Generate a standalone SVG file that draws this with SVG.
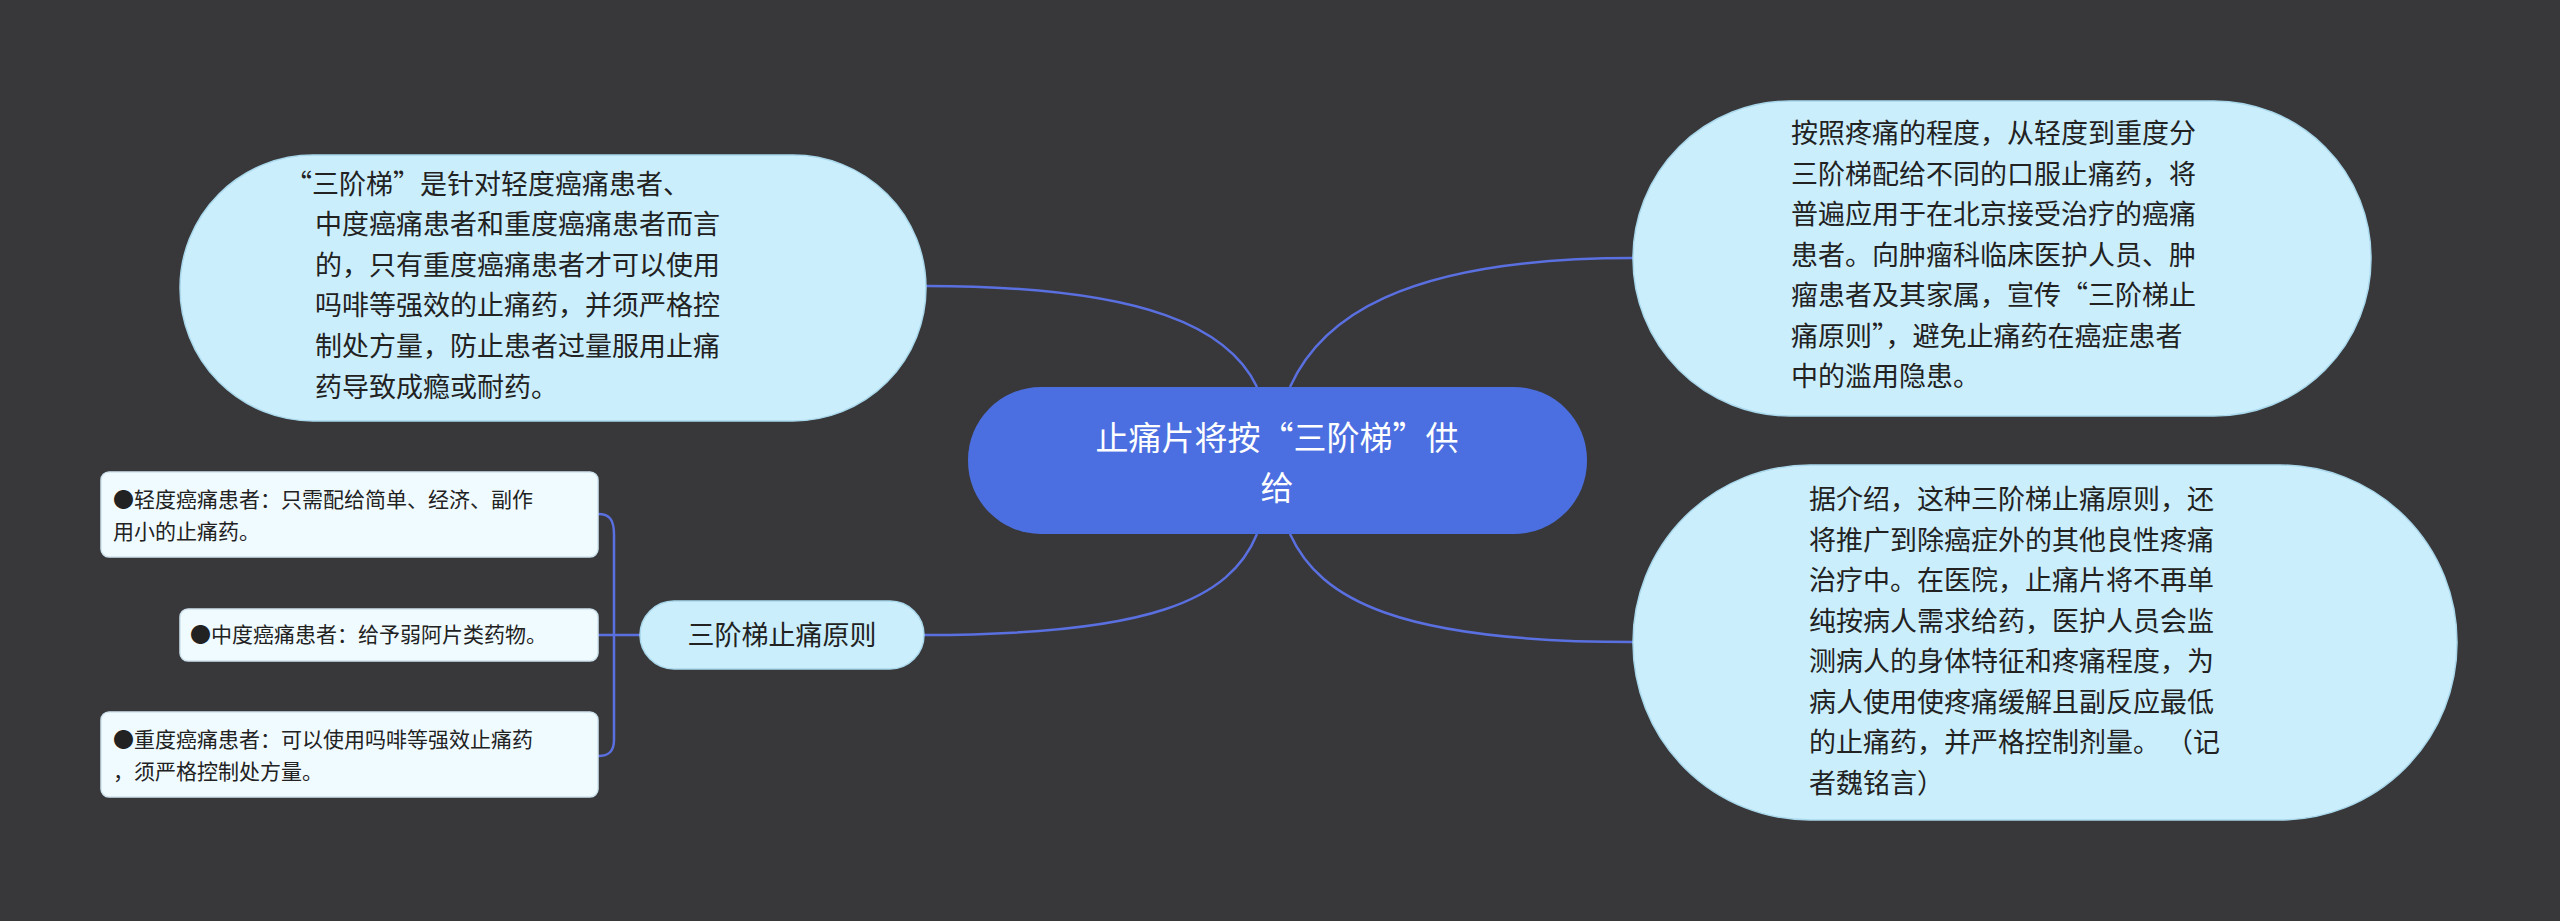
<svg xmlns="http://www.w3.org/2000/svg" width="2560" height="921" viewBox="0 0 2560 921">
<style>
.t{font-family:"Noto Sans CJK SC","Liberation Sans",sans-serif;}
.big{font-size:27px;fill:#222}
.leaf{font-size:21px;fill:#222}
.c{fill:none;stroke:#5a6fe0;stroke-width:2.5}
.bub{fill:#cbeefc;stroke:#a9d8ec;stroke-width:1.5}
.lf{fill:#f0fbff;stroke:#cfe3ee;stroke-width:1.5}
</style>
<rect width="2560" height="921" fill="#38383a"/>
<g id="connectors">
<path class="c" d="M926,286 C1150,286 1230,330 1257,387"/>
<path class="c" d="M1290,387 C1320,320 1400,258 1633,258"/>
<path class="c" d="M1290,534 C1320,600 1400,642 1633,642"/>
<path class="c" d="M1257,534 C1230,600 1150,635 924,635"/>
<path class="c" d="M640,635 L614,635 M598,514 C610,514 614,520 614,535 L614,740 C614,750 610,756 598,756 M598,635 L614,635"/>
</g>
<g id="center">
<rect x="968" y="387" width="619" height="147" rx="73" fill="#4b6fe0"/>
<text class="t" x="1277" y="450" font-size="33" fill="#fff" text-anchor="middle">止痛片将按“三阶梯”供</text>
<text class="t" x="1277" y="500" font-size="33" fill="#fff" text-anchor="middle">给</text>
</g>
<g id="topleft">
<rect class="bub" x="180" y="155" width="746" height="266" rx="133"/>
<text class="t big"><tspan x="285" y="194">“三阶梯”是针对轻度癌痛患者、</tspan><tspan x="315" y="234">中度癌痛患者和重度癌痛患者而言</tspan><tspan x="315" y="275">的，只有重度癌痛患者才可以使用</tspan><tspan x="315" y="315">吗啡等强效的止痛药，并须严格控</tspan><tspan x="315" y="356">制处方量，防止患者过量服用止痛</tspan><tspan x="315" y="397">药导致成瘾或耐药。</tspan></text>
</g>
<g id="topright">
<rect class="bub" x="1633" y="101" width="738" height="315" rx="157"/>
<text class="t big"><tspan x="1791" y="143">按照疼痛的程度，从轻度到重度分</tspan><tspan x="1791" y="184">三阶梯配给不同的口服止痛药，将</tspan><tspan x="1791" y="224">普遍应用于在北京接受治疗的癌痛</tspan><tspan x="1791" y="265">患者。向肿瘤科临床医护人员、肿</tspan><tspan x="1791" y="305">瘤患者及其家属，宣传“三阶梯止</tspan><tspan x="1791" y="346">痛原则”，避免止痛药在癌症患者</tspan><tspan x="1791" y="386">中的滥用隐患。</tspan></text>
</g>
<g id="bottomright">
<rect class="bub" x="1633" y="465" width="824" height="355" rx="177"/>
<text class="t big"><tspan x="1809" y="509">据介绍，这种三阶梯止痛原则，还</tspan><tspan x="1809" y="550">将推广到除癌症外的其他良性疼痛</tspan><tspan x="1809" y="590">治疗中。在医院，止痛片将不再单</tspan><tspan x="1809" y="631">纯按病人需求给药，医护人员会监</tspan><tspan x="1809" y="671">测病人的身体特征和疼痛程度，为</tspan><tspan x="1809" y="712">病人使用使疼痛缓解且副反应最低</tspan><tspan x="1809" y="752">的止痛药，并严格控制剂量。 （记</tspan><tspan x="1809" y="793">者魏铭言）</tspan></text>
</g>
<g id="principle">
<rect class="bub" x="640" y="601" width="284" height="68" rx="34"/>
<text class="t" x="782" y="645" font-size="27" fill="#222" text-anchor="middle">三阶梯止痛原则</text>
</g>
<g id="leaf1">
<rect class="lf" x="101" y="472" width="497" height="85" rx="8"/>
<text class="t leaf"><tspan x="113" y="507">●轻度癌痛患者：只需配给简单、经济、副作</tspan><tspan x="113" y="539">用小的止痛药。</tspan></text>
</g>
<g id="leaf2">
<rect class="lf" x="180" y="609" width="418" height="52" rx="8"/>
<text class="t leaf" x="190" y="642">●中度癌痛患者：给予弱阿片类药物。</text>
</g>
<g id="leaf3">
<rect class="lf" x="101" y="712" width="497" height="85" rx="8"/>
<text class="t leaf"><tspan x="113" y="747">●重度癌痛患者：可以使用吗啡等强效止痛药</tspan><tspan x="113" y="779">，须严格控制处方量。</tspan></text>
</g>
</svg>
